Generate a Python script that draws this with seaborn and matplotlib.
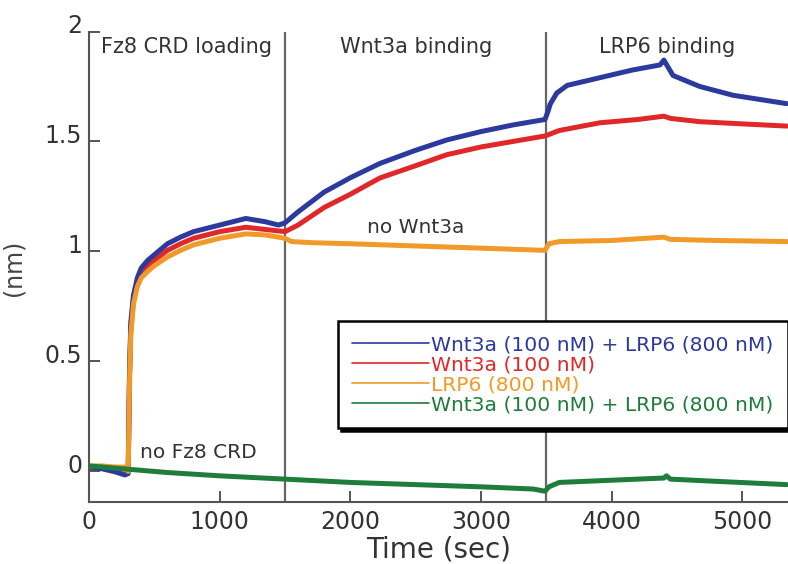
import numpy as np
import pandas as pd
import matplotlib
matplotlib.use("Agg")
import matplotlib.pyplot as plt
from matplotlib.lines import Line2D
from matplotlib.transforms import ScaledTranslation
import seaborn as sns

# Sensorgram traces: time (sec) and binding signal (nm)
t_wnt_lrp = [0, 100, 200, 275, 300, 310, 320, 340, 370, 400, 450, 500, 600, 700, 800,
             1000, 1200, 1350, 1450, 1500, 1600, 1800, 2000, 2226, 2500, 2739, 3000,
             3244, 3490, 3515, 3530, 3580, 3660, 3910, 4160, 4370, 4400, 4410, 4470,
             4675, 4930, 5340]
v_wnt_lrp = [0.02, 0.012, -0.002, -0.016, -0.01, 0.45, 0.68, 0.80, 0.88, 0.925, 0.96,
             0.985, 1.035, 1.065, 1.09, 1.12, 1.15, 1.135, 1.12, 1.13, 1.18, 1.27, 1.335,
             1.40, 1.46, 1.507, 1.545, 1.575, 1.60, 1.64, 1.67, 1.72, 1.755, 1.79, 1.825,
             1.848, 1.87, 1.86, 1.80, 1.75, 1.71, 1.672]

t_wnt = [0, 100, 200, 275, 300, 310, 320, 340, 370, 400, 450, 500, 600, 700, 800,
         1000, 1200, 1350, 1500, 1600, 1800, 2000, 2226, 2500, 2739, 3000, 3244, 3490,
         3600, 3910, 4200, 4400, 4450, 4675, 5000, 5340]
v_wnt = [0.02, 0.02, 0.015, 0.01, 0.01, 0.43, 0.65, 0.78, 0.86, 0.90, 0.935, 0.96,
         1.005, 1.035, 1.06, 1.09, 1.11, 1.10, 1.09, 1.12, 1.20, 1.26, 1.334, 1.39,
         1.44, 1.475, 1.50, 1.525, 1.55, 1.585, 1.60, 1.615, 1.605, 1.59, 1.58, 1.57]

t_lrp = [0, 100, 200, 275, 300, 310, 320, 340, 370, 400, 450, 500, 600, 700, 800,
         1000, 1200, 1350, 1500, 1550, 1700, 2000, 2500, 3000, 3490, 3520, 3600, 4000,
         4400, 4450, 4800, 5340]
v_lrp = [0.025, 0.025, 0.02, 0.02, 0.0, 0.40, 0.62, 0.76, 0.84, 0.88, 0.91, 0.935,
         0.975, 1.005, 1.03, 1.06, 1.08, 1.075, 1.06, 1.045, 1.04, 1.035, 1.025, 1.015,
         1.005, 1.035, 1.045, 1.05, 1.065, 1.055, 1.05, 1.045]

t_ctrl = [0, 300, 600, 1000, 1500, 2000, 2500, 3000, 3400, 3490, 3520, 3600, 4000,
          4400, 4420, 4450, 4800, 5340]
v_ctrl = [0.025, 0.01, -0.005, -0.02, -0.035, -0.05, -0.06, -0.07, -0.08, -0.09,
          -0.07, -0.05, -0.04, -0.03, -0.02, -0.035, -0.045, -0.06]

series_keys = ["wnt_lrp", "wnt", "lrp", "ctrl"]
series_labels = ["Wnt3a (100 nM) + LRP6 (800 nM)", "Wnt3a (100 nM)", "LRP6 (800 nM)",
                 "Wnt3a (100 nM) + LRP6 (800 nM)"]
series_colors = ["#2b3a9c", "#e0282b", "#f19a2a", "#1f7d3c"]

phase_bounds = [1500, 3500]
phase_names = ["Fz8 CRD loading", "Wnt3a binding", "LRP6 binding"]
phase_centers = [750, 2500, 4425]

x_ticks = [0, 1000, 2000, 3000, 4000, 5000]
y_ticks = [0, 0.5, 1, 1.5, 2]
y_tick_labels = ["0", "0.5", "1", "1.5", "2"]

frames = []
for key, t, v in [("wnt_lrp", t_wnt_lrp, v_wnt_lrp), ("wnt", t_wnt, v_wnt),
                  ("lrp", t_lrp, v_lrp), ("ctrl", t_ctrl, v_ctrl)]:
    frames.append(pd.DataFrame({"time": t, "signal": v, "series": key}))
df = pd.concat(frames, ignore_index=True)

sns.set_style("white")
plt.rcParams["font.family"] = ["DejaVu Sans"]

fig = plt.figure(figsize=(7.88, 5.64), dpi=100)
ax = fig.add_axes([89 / 788, 62 / 564, 1 - 89 / 788, (502 - 31.5) / 564])

palette = dict(zip(series_keys, series_colors))
draw_order = ["wnt", "wnt_lrp", "lrp", "ctrl"]
for i, key in enumerate(draw_order):
    sns.lineplot(data=df[df["series"] == key], x="time", y="signal", color=palette[key],
                 lw=3.6, sort=False, estimator=None, legend=False, ax=ax, zorder=3 + i)

for b in phase_bounds:
    ax.axvline(b, color="#666666", lw=1.6, zorder=2)

ax.set_xlim(0, 5350)
ax.set_ylim(-0.139, 2.0)
ax.set_xticks(x_ticks)
ax.set_yticks(y_ticks)
ax.set_yticklabels(y_tick_labels)
ax.tick_params(axis="both", direction="in", length=8, width=1.4, color="#555555",
               labelsize=17, labelcolor="#333333", bottom=True, left=True)
ax.tick_params(axis="x", pad=6)
ax.tick_params(axis="y", pad=5)
offset = ScaledTranslation(0, 6 / 72, fig.dpi_scale_trans)
for lbl in ax.yaxis.get_majorticklabels():
    lbl.set_transform(lbl.get_transform() + offset)

for side in ["top", "right"]:
    ax.spines[side].set_visible(False)
for side in ["left", "bottom"]:
    ax.spines[side].set_color("#555555")
    ax.spines[side].set_linewidth(1.5)

ax.set_xlabel("Time (sec)", fontsize=20, color="#333333", labelpad=1)
ax.set_ylabel("")
fig.text(26 / 788, 1 - 268 / 564, "(nm)", rotation=90, ha="right", va="center",
         fontsize=17, color="#444444")

for name, c in zip(phase_names, phase_centers):
    ax.text(c, 1.93, name, ha="center", va="center", fontsize=15, color="#333333")
ax.text(2500, 1.107, "no Wnt3a", ha="center", va="center", fontsize=14.5, color="#333333")
ax.text(390, 0.084, "no Fz8 CRD", ha="left", va="center", fontsize=14.5, color="#333333")

handles = [Line2D([], [], color=c, lw=1.2) for c in series_colors]
leg = ax.legend(handles, series_labels, loc="upper left",
                bbox_to_anchor=(338 / 788, 1 - 321 / 564), bbox_transform=fig.transFigure,
                borderaxespad=0, fontsize=14.6, labelcolor="linecolor", frameon=True,
                fancybox=False, handlelength=3.8, handletextpad=0.1, labelspacing=0.05,
                borderpad=0.7, shadow={"color": "black", "alpha": 1.0})
leg.get_frame().set_edgecolor("black")
leg.get_frame().set_linewidth(1.8)
leg.set_zorder(10)

fig.savefig("out.png", dpi=100)
